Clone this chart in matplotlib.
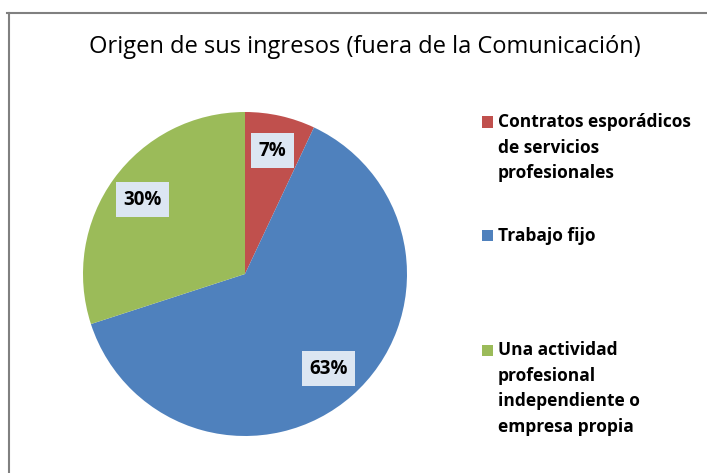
import matplotlib
matplotlib.use("Agg")
import matplotlib.pyplot as plt
from matplotlib.patches import Rectangle
from matplotlib.lines import Line2D

plt.rcParams["font.family"] = ["Open Sans", "DejaVu Sans"]

categories = [
    "Contratos esporádicos\nde servicios\nprofesionales",
    "Trabajo fijo",
    "Una actividad\nprofesional\nindependiente o\nempresa propia",
]
shares = [7, 63, 30]
colors = ["#C0504D", "#4F81BD", "#9BBB59"]

W, H = 707, 473
fig = plt.figure(figsize=(W / 100, H / 100), dpi=100)

# frame lines (top and left, as in the cropped screenshot)
fig.add_artist(Line2D([7 / W, 1], [1 - 13 / H, 1 - 13 / H], color="#808080", lw=1.5))
fig.add_artist(Line2D([9 / W, 9 / W], [0, 1 - 13 / H], color="#808080", lw=1.5))

fig.text(365 / W, 1 - 47 / H, "Origen de sus ingresos (fuera de la Comunicación)",
         ha="center", va="center", fontsize=17, color="black")

# pie
cx, cy, r = 245, 274, 162
ax = fig.add_axes([(cx - r) / W, (H - cy - r) / H, 2 * r / W, 2 * r / H])
wedges, texts, autotexts = ax.pie(
    shares, colors=colors, startangle=90, counterclock=False,
    autopct="%d%%", pctdistance=0.78,
    wedgeprops=dict(linewidth=0),
)
for t in autotexts:
    t.set_fontsize(13.5)
    t.set_fontweight("bold")
    t.set_color("black")
    t.set_bbox(dict(boxstyle="square,pad=0.4", facecolor="#DCE6F2", edgecolor="none"))
ax.set_xlim(-1, 1)
ax.set_ylim(-1, 1)
ax.set_aspect("equal")
ax.axis("off")

# legend, drawn by hand to keep Excel's even spacing
for i, (lab, col) in enumerate(zip(categories, colors)):
    y = 122 + i * 114
    fig.add_artist(Rectangle((482 / W, 1 - (y + 5.5) / H), 11 / W, 11 / H,
                             facecolor=col, edgecolor="none"))
    fig.text(498 / W, 1 - (y - 9) / H, lab, ha="left", va="top",
             fontsize=12.5, fontweight="bold", linespacing=1.55, color="black")

fig.savefig("out.png", dpi=100)
